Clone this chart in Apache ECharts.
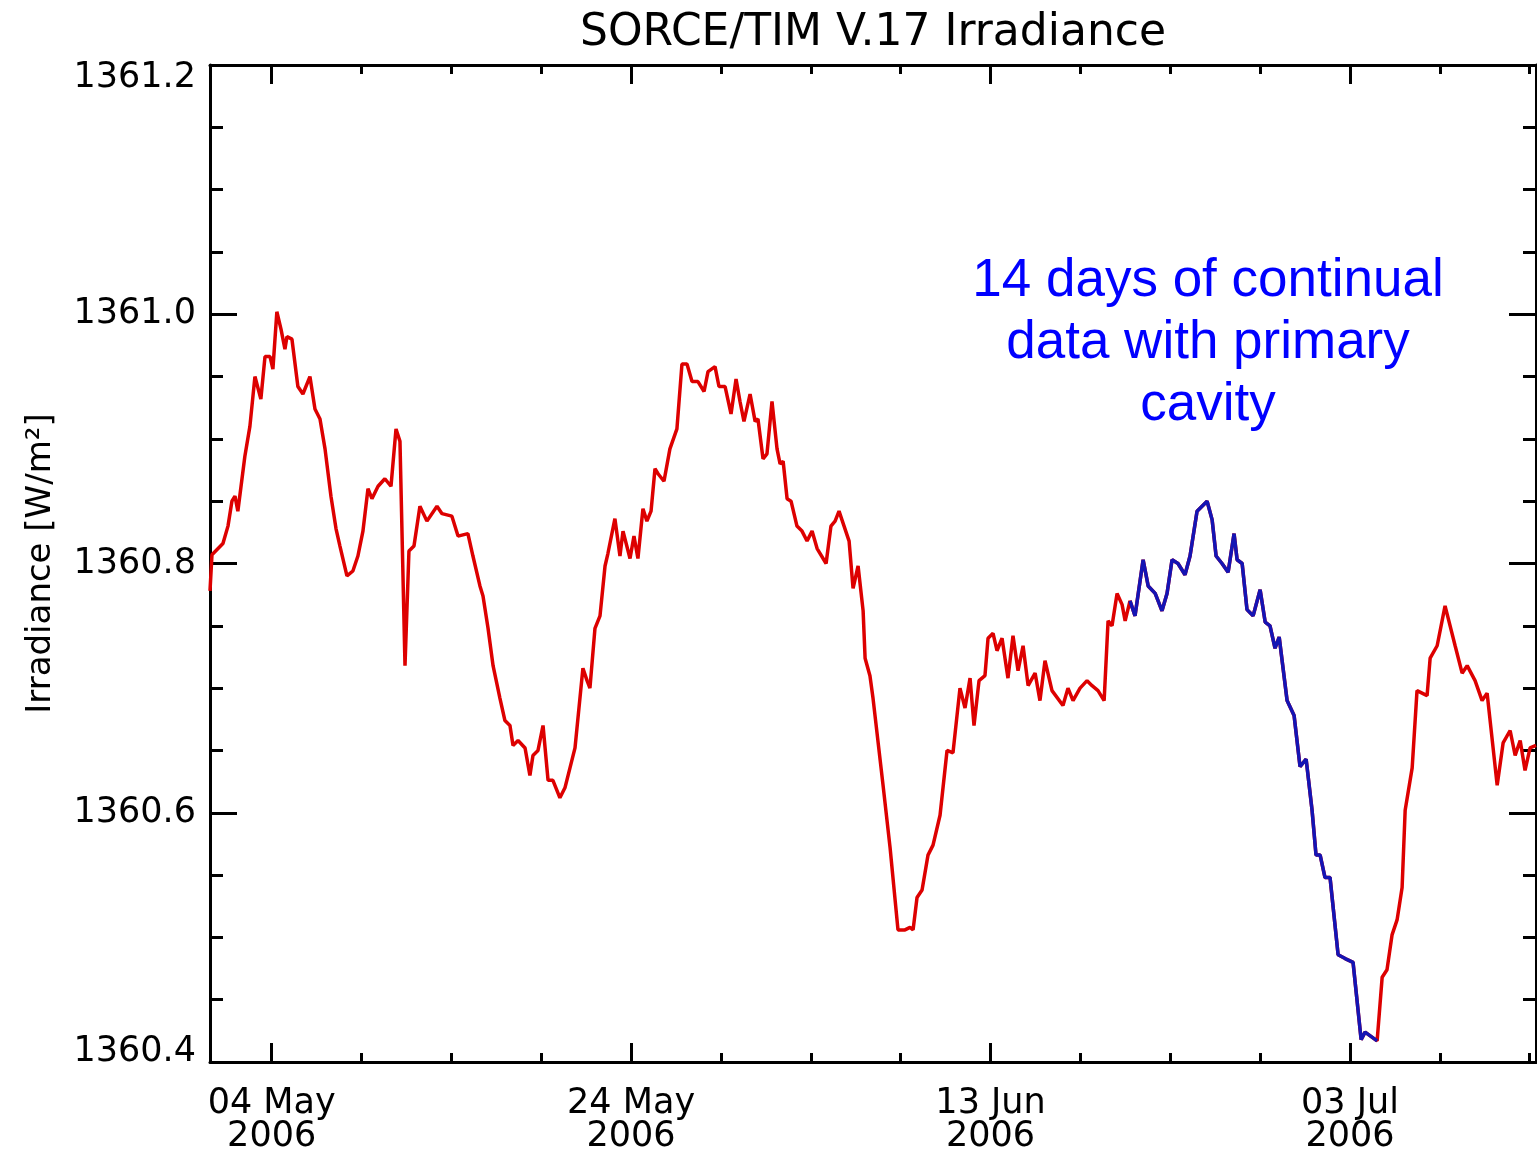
<!DOCTYPE html>
<html>
<head>
<meta charset="utf-8">
<title>SORCE/TIM V.17 Irradiance</title>
<script src="https://cdn.jsdelivr.net/npm/echarts@6/dist/echarts.min.js"></script>
<style>
  html, body { margin: 0; padding: 0; background: #ffffff; }
  #chart { width: 1537px; height: 1154px; }
</style>
</head>
<body>
<div id="chart"></div>
<script>
// Day of year 2006 (1 Jan = 1) of each TIM sample
const dayOfYear = [
  120.57, 120.68, 121.29, 121.57, 121.79, 121.96, 122.12, 122.51, 122.79, 123.07,
  123.40, 123.63, 123.91, 124.07, 124.29, 124.52, 124.74, 124.85, 125.13, 125.46,
  125.74, 126.13, 126.41, 126.69, 126.97, 127.30, 127.58, 127.80, 128.19, 128.52,
  128.80, 129.08, 129.36, 129.58, 129.92, 130.30, 130.64, 130.92, 131.14, 131.42,
  131.64, 131.92, 132.25, 132.64, 133.20, 133.48, 134.03, 134.37, 134.92, 135.20,
  135.59, 135.76, 136.04, 136.32, 136.70, 136.98, 137.26, 137.43, 137.71, 138.10,
  138.37, 138.54, 138.82, 139.10, 139.38, 139.65, 140.04, 140.32, 140.60, 140.88,
  141.32, 141.55, 141.71, 141.99, 142.27, 142.55, 142.71, 143.10, 143.38, 143.55,
  143.94, 144.16, 144.38, 144.66, 144.88, 145.11, 145.33, 145.50, 145.83, 146.16,
  146.55, 146.83, 147.11, 147.39, 147.72, 148.06, 148.28, 148.67, 148.89, 149.23,
  149.56, 149.84, 150.06, 150.28, 150.62, 150.90, 151.06, 151.34, 151.56, 151.84,
  152.12, 152.29, 152.46, 152.68, 152.90, 153.23, 153.51, 153.79, 154.07, 154.35,
  154.85, 155.12, 155.35, 155.57, 155.85, 156.13, 156.35, 156.63, 156.91, 157.02,
  157.29, 157.46, 158.02, 158.41, 158.85, 159.24, 159.52, 159.69, 159.91, 160.19,
  160.52, 160.80, 161.19, 161.58, 161.91, 162.30, 162.58, 162.86, 163.08, 163.36,
  163.69, 163.86, 164.14, 164.36, 164.64, 164.97, 165.25, 165.53, 165.81, 166.09,
  166.48, 166.75, 167.03, 167.42, 168.03, 168.31, 168.59, 168.98, 169.37, 169.65,
  169.98, 170.32, 170.54, 170.76, 171.04, 171.32, 171.49, 171.76, 172.04, 172.49,
  172.77, 173.16, 173.54, 173.82, 174.10, 174.43, 174.82, 175.10, 175.49, 176.05,
  176.33, 176.55, 176.88, 177.22, 177.55, 177.72, 178.00, 178.27, 178.61, 179.00,
  179.28, 179.55, 179.83, 180.06, 180.50, 180.89, 181.22, 181.56, 181.89, 182.11,
  182.34, 182.61, 182.89, 183.34, 183.73, 184.17, 184.62, 184.84, 185.51, 185.79,
  186.06, 186.34, 186.62, 186.90, 187.07, 187.46, 187.73, 188.29, 188.46, 188.85,
  189.29, 189.85, 190.24, 190.52, 190.96, 191.35, 191.63, 192.19, 192.52, 192.91,
  193.19, 193.47, 193.74, 194.02, 194.35
];

// Total solar irradiance, W/m^2
const irradiance = [
  1360.778, 1360.807, 1360.816, 1360.830, 1360.850, 1360.854, 1360.842, 1360.886, 1360.910, 1360.950,
  1360.932, 1360.966, 1360.966, 1360.956, 1361.002, 1360.988, 1360.972, 1360.982, 1360.980, 1360.942,
  1360.936, 1360.950, 1360.924, 1360.916, 1360.892, 1360.854, 1360.828, 1360.814, 1360.790, 1360.794,
  1360.806, 1360.826, 1360.860, 1360.852, 1360.862, 1360.868, 1360.862, 1360.908, 1360.898, 1360.718,
  1360.810, 1360.814, 1360.846, 1360.834, 1360.846, 1360.840, 1360.838, 1360.822, 1360.824, 1360.806,
  1360.782, 1360.774, 1360.748, 1360.718, 1360.692, 1360.674, 1360.670, 1360.654, 1360.658, 1360.652,
  1360.630, 1360.646, 1360.650, 1360.670, 1360.626, 1360.626, 1360.612, 1360.620, 1360.636, 1360.652,
  1360.716, 1360.706, 1360.700, 1360.748, 1360.758, 1360.798, 1360.808, 1360.836, 1360.806, 1360.826,
  1360.804, 1360.822, 1360.804, 1360.844, 1360.834, 1360.842, 1360.876, 1360.872, 1360.866, 1360.892,
  1360.908, 1360.960, 1360.960, 1360.946, 1360.946, 1360.938, 1360.954, 1360.958, 1360.942, 1360.942,
  1360.920, 1360.948, 1360.930, 1360.914, 1360.936, 1360.914, 1360.916, 1360.884, 1360.888, 1360.930,
  1360.892, 1360.880, 1360.882, 1360.852, 1360.850, 1360.830, 1360.826, 1360.818, 1360.826, 1360.812,
  1360.800, 1360.830, 1360.834, 1360.842, 1360.830, 1360.818, 1360.780, 1360.798, 1360.762, 1360.724,
  1360.710, 1360.692, 1360.622, 1360.572, 1360.506, 1360.506, 1360.508, 1360.506, 1360.532, 1360.538,
  1360.566, 1360.574, 1360.598, 1360.650, 1360.648, 1360.700, 1360.684, 1360.708, 1360.670, 1360.706,
  1360.710, 1360.740, 1360.744, 1360.730, 1360.740, 1360.708, 1360.742, 1360.714, 1360.734, 1360.702,
  1360.712, 1360.690, 1360.722, 1360.698, 1360.686, 1360.700, 1360.690, 1360.700, 1360.706, 1360.702,
  1360.698, 1360.690, 1360.754, 1360.750, 1360.776, 1360.767, 1360.754, 1360.770, 1360.758, 1360.803,
  1360.782, 1360.776, 1360.762, 1360.776, 1360.803, 1360.800, 1360.791, 1360.806, 1360.842, 1360.850,
  1360.835, 1360.806, 1360.800, 1360.793, 1360.824, 1360.803, 1360.800, 1360.763, 1360.758, 1360.779,
  1360.753, 1360.750, 1360.732, 1360.741, 1360.690, 1360.678, 1360.637, 1360.643, 1360.602, 1360.566,
  1360.566, 1360.548, 1360.548, 1360.486, 1360.483, 1360.480, 1360.418, 1360.424, 1360.417, 1360.468,
  1360.474, 1360.502, 1360.514, 1360.540, 1360.602, 1360.636, 1360.698, 1360.694, 1360.724, 1360.734,
  1360.766, 1360.734, 1360.712, 1360.718, 1360.706, 1360.690, 1360.696, 1360.622, 1360.656, 1360.666,
  1360.646, 1360.658, 1360.634, 1360.652, 1360.654
];

// Interval measured continually with the primary cavity (day of year)
const primaryStart = 171.76;
const primaryEnd = 185.51;

// Axis ticks (day of year) and irradiance limits
const majorDays = [124, 144, 164, 184];
const minorDays = [129, 134, 139, 149, 154, 159, 169, 174, 179, 189, 194];
const dayMin = 120.57;
const dayMax = 194.35;
const irrMin = 1360.4;
const irrMax = 1361.2;
const irrStep = 0.2;
const midLabels = [1360.6, 1360.8, 1361.0];

const titleText = 'SORCE/TIM V.17 Irradiance';
const yName = 'Irradiance [W/m\u00b2]';
const noteText = '14 days of continual\ndata with primary\ncavity';

const months = ['Jan', 'Feb', 'Mar', 'Apr', 'May', 'Jun', 'Jul', 'Aug', 'Sep', 'Oct', 'Nov', 'Dec'];
function dayLabel(doy) {
  const d = new Date(Date.UTC(2006, 0, Math.round(doy)));
  const dd = String(d.getUTCDate()).padStart(2, '0');
  return dd + ' ' + months[d.getUTCMonth()] + '\n' + d.getUTCFullYear();
}

const allPoints = dayOfYear.map((d, i) => [d, irradiance[i]]);
const primaryPoints = allPoints.filter(p => p[0] >= primaryStart && p[0] <= primaryEnd);

const axisFont = 'DejaVu Sans';
const ink = '#000000';
const frameLine = { show: true, lineStyle: { color: ink, width: 3 } };

function xAxisDef(pos, ticks, len, withLabels, withLine) {
  return {
    type: 'value', position: pos, min: dayMin, max: dayMax,
    axisLine: withLine ? frameLine : { show: false },
    splitLine: { show: false },
    axisTick: { show: true, inside: true, length: len, customValues: ticks,
                lineStyle: { color: ink, width: 3 } },
    axisLabel: withLabels ? {
      show: true, customValues: ticks, formatter: dayLabel, margin: 25,
      fontFamily: axisFont, fontSize: 35, lineHeight: 33, color: ink
    } : { show: false }
  };
}

// End labels of the irradiance axis sit just inside the frame
function yAxisDef(pos, labelValues, vAlign, lineH, withTicks) {
  return {
    type: 'value', position: pos, min: irrMin, max: irrMax, interval: irrStep,
    axisLine: withTicks ? frameLine : { show: false },
    splitLine: { show: false },
    axisTick: { show: withTicks, inside: true, length: 27, lineStyle: { color: ink, width: 3 } },
    minorTick: { show: withTicks, splitNumber: 4, length: 13, lineStyle: { color: ink, width: 3 } },
    axisLabel: labelValues ? {
      show: true, customValues: labelValues, margin: 14, verticalAlign: vAlign,
      lineHeight: lineH, formatter: v => v.toFixed(1),
      fontFamily: axisFont, fontSize: 35, color: ink
    } : { show: false }
  };
}

const leftMain = yAxisDef('left', midLabels, 'middle', 40, true);
leftMain.name = yName;
leftMain.nameLocation = 'middle';
leftMain.nameRotate = 90;
leftMain.nameGap = 152;
leftMain.nameTextStyle = { fontFamily: axisFont, fontSize: 34, color: ink };

const chart = echarts.init(document.getElementById('chart'), null, { renderer: 'canvas' });
chart.setOption({
  backgroundColor: '#ffffff',
  animation: false,
  title: [
    {
      text: titleText, left: 873, top: 9, textAlign: 'center', padding: 0,
      textStyle: { fontFamily: axisFont, fontSize: 44, fontWeight: 'normal', color: ink, lineHeight: 50 }
    },
    {
      text: noteText, left: 1208, top: 250, textAlign: 'center', padding: 0,
      textStyle: { fontFamily: 'Liberation Sans', fontSize: 53, fontWeight: 'normal', color: '#0000ff', lineHeight: 62 }
    }
  ],
  grid: { left: 210, right: 1, top: 65, bottom: 89, containLabel: false },
  xAxis: [
    xAxisDef('bottom', majorDays, 19, true, true),
    xAxisDef('bottom', minorDays, 9, false, false),
    xAxisDef('top', majorDays, 19, false, true),
    xAxisDef('top', minorDays, 9, false, false)
  ],
  yAxis: [
    leftMain,
    yAxisDef('left', [irrMax], 'top', 26, false),
    yAxisDef('left', [irrMin], 'bottom', 20, false),
    yAxisDef('right', null, 'middle', 40, true)
  ],
  series: [
    {
      type: 'line', name: 'TIM', data: allPoints, xAxisIndex: 0, yAxisIndex: 0,
      showSymbol: false, symbol: 'none', smooth: false, clip: true,
      lineStyle: { color: '#dd0000', width: 3.5 }, z: 3
    },
    {
      type: 'line', name: 'Primary cavity', data: primaryPoints, xAxisIndex: 0, yAxisIndex: 0,
      showSymbol: false, symbol: 'none', smooth: false, clip: true,
      lineStyle: { color: '#1414b4', width: 3.5 }, z: 4
    }
  ]
});
</script>
</body>
</html>
